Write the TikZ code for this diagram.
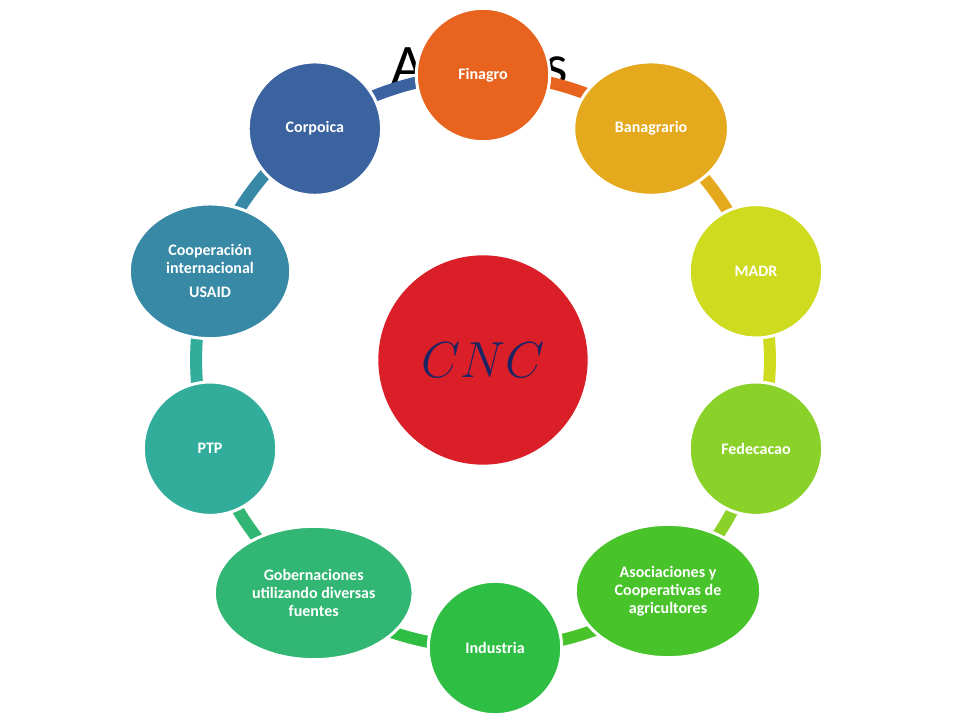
\documentclass[tikz,border=0pt]{standalone}
\usepackage{fix-cm}
\usepackage{fontspec}
\setmainfont{Carlito}
\usepackage{xcolor}
\usetikzlibrary{positioning,shapes,calc}
\pgfdeclarelayer{bg}
\pgfsetlayers{bg,main}
\definecolor{cncRed}{RGB}{218,31,40}
\definecolor{cncText}{RGB}{28,36,100}
\definecolor{finagro}{RGB}{232,99,30}
\definecolor{banagrario}{RGB}{229,169,30}
\definecolor{madr}{RGB}{206,219,30}
\definecolor{fedecacao}{RGB}{138,209,42}
\definecolor{asociaciones}{RGB}{72,196,42}
\definecolor{industria}{RGB}{46,190,68}
\definecolor{gobernaciones}{RGB}{49,183,115}
\definecolor{ptp}{RGB}{51,173,155}
\definecolor{cooperacion}{RGB}{55,137,166}
\definecolor{corpoica}{RGB}{59,99,160}

\begin{document}
\begin{tikzpicture}[x=0.75pt,y=0.75pt,
	main node/.style={ellipse,inner sep=0pt,draw=white,line width=2.25pt,text=white,
		font=\bfseries\fontsize{12}{13.5}\selectfont,align=center,
		minimum width=100pt,minimum height=100pt},
	link/.style={line width=9pt,bend left=18,looseness=0.87}]

	\useasboundingbox (-483,-360) rectangle (477,360);

	\node[circle,fill=cncRed,minimum size=157pt,inner sep=0pt,text=cncText,
		font=\fontsize{38}{40}\selectfont] (CNC) at (0,0) {$CNC$};

	\node[main node,fill=finagro] (F) at (90:285) {Finagro};
	\node[main node,fill=banagrario,minimum width=116pt] (B) at (54:286) {Banagrario};
	\node[main node,fill=madr] (M) at (18:287) {MADR};
	\node[main node,fill=fedecacao] (Fe) at (-18:287) {Fedecacao};
	\node[main node,fill=asociaciones,minimum width=139pt] (A) at (185,-231) {Asociaciones y\\Cooperativas de\\agricultores};
	\node[main node,fill=industria] (I) at (12,-288) {Industria};
	\node[main node,fill=gobernaciones,minimum width=149pt] (G) at (-126:288) {Gobernaciones\\utilizando diversas\\fuentes};
	\node[main node,fill=ptp] (P) at (-162:287) {PTP};
	\node[main node,fill=cooperacion,minimum width=121pt,minimum height=101pt] (Co) at (162:287) {Cooperación\\internacional\\[4.5pt]USAID};
	\node[main node,fill=corpoica] (Cp) at (126:286) {Corpoica};

	\begin{pgfonlayer}{bg}
	\node[anchor=base,font=\fontsize{43}{46}\selectfont] (T) at (-3,275) {Actores};
	\path
	(F.center) edge[link,color=finagro] (B.center)
	(B.center) edge[link,color=banagrario] (M.center)
	(M.center) edge[link,color=madr] (Fe.center)
	(Fe.center) edge[link,color=fedecacao] (A.center)
	(A.center) edge[link,color=asociaciones] (I.center)
	(I.center) edge[link,color=industria] (G.center)
	(G.center) edge[link,color=gobernaciones] (P.center)
	(P.center) edge[link,color=ptp] (Co.center)
	(Co.center) edge[link,color=cooperacion] (Cp.center)
	(Cp.center) edge[link,color=corpoica] (F.center)
	;
	\end{pgfonlayer}

\end{tikzpicture}
\end{document}
